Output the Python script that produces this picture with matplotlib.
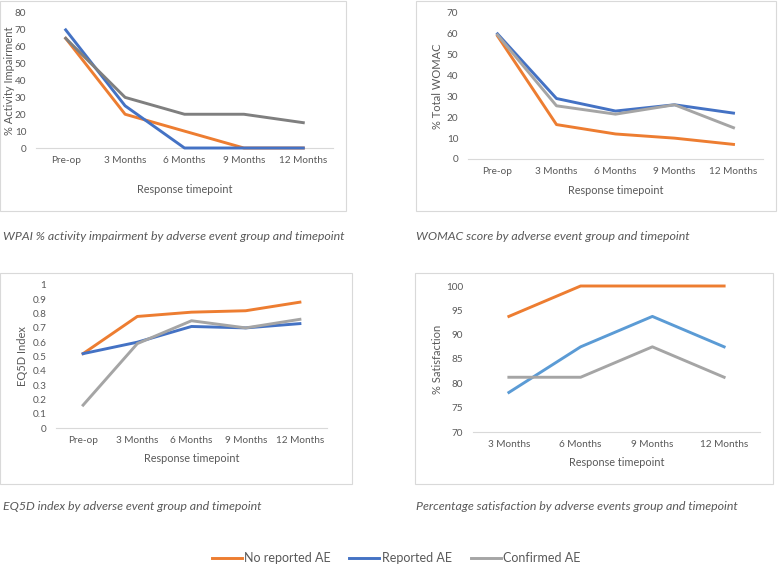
import matplotlib
matplotlib.use("Agg")
import matplotlib.pyplot as plt
from matplotlib.patches import Rectangle
from matplotlib.lines import Line2D

plt.rcParams['font.family'] = ['Lato', 'DejaVu Sans']

# categories
cats5 = ["Pre-op", "3 Months", "6 Months", "9 Months", "12 Months"]
cats4 = ["3 Months", "6 Months", "9 Months", "12 Months"]

# WPAI % activity impairment
wpai_no = [65, 20, 10, 0, 0]
wpai_rep = [70, 25, 0, 0, 0]
wpai_conf = [65, 30, 20, 20, 15]

# WOMAC
womac_no = [59, 16.5, 12, 10, 7]
womac_rep = [60, 29, 23, 26, 22]
womac_conf = [59.5, 25.5, 21.5, 26, 15]

# EQ5D
eq_no = [0.52, 0.78, 0.81, 0.82, 0.88]
eq_rep = [0.52, 0.60, 0.71, 0.70, 0.73]
eq_conf = [0.16, 0.59, 0.75, 0.70, 0.76]

# satisfaction
sat_no = [93.75, 100, 100, 100]
sat_rep = [78.125, 87.5, 93.75, 87.5]
sat_conf = [81.25, 81.25, 87.5, 81.25]

ORANGE = "#ED7D31"
BLUE = "#4472C4"
LBLUE = "#5B9BD5"
GRAY = "#A5A5A5"
DGRAY = "#7F7F7F"
TXT = "#595959"

W, H = 778, 567
fig = plt.figure(figsize=(W / 100, H / 100), dpi=100)


def box(x0, y0, x1, y1):
    fig.patches.append(Rectangle((x0 / W, 1 - y1 / H), (x1 - x0) / W, (y1 - y0) / H,
                                 transform=fig.transFigure, fill=False,
                                 edgecolor="#D9D9D9", linewidth=0.8))


def panel(left, top, w, h, cats, series, ylim, yticks, ylabel, ylab_x, xlab_y, yfmt=None):
    ax = fig.add_axes([left / W, 1 - (top + h) / H, w / W, h / H])
    x = list(range(len(cats)))
    for vals, col in series:
        ax.plot(x, vals, color=col, linewidth=2.1, clip_on=False)
    ax.set_xlim(-0.5, len(cats) - 0.5)
    ax.set_ylim(*ylim)
    ax.set_xticks(x)
    ax.set_xticklabels(cats)
    ax.set_yticks(yticks)
    if yfmt:
        ax.set_yticklabels([yfmt(v) for v in yticks])
    for s in ["top", "right", "left"]:
        ax.spines[s].set_visible(False)
    ax.spines["bottom"].set_color("#D9D9D9")
    ax.spines["bottom"].set_linewidth(0.8)
    ax.spines["bottom"].set_zorder(0)
    ax.tick_params(length=0, labelsize=7.2, labelcolor=TXT)
    ax.tick_params(axis='y', pad=7)
    ax.tick_params(axis='x', pad=6)
    ax.set_ylabel(ylabel, fontsize=8, color=TXT)
    # label anchor is the right edge of the rotated text
    ax.yaxis.set_label_coords((ylab_x + 5 - left) / w, 0.5)
    ax.set_xlabel("Response timepoint", fontsize=7.8, color=TXT)
    # label anchor is the top of the text
    ax.xaxis.set_label_coords(0.5, -(xlab_y - 5 - (top + h)) / h)
    ax.patch.set_visible(False)
    return ax


box(0, 1, 346, 211)
box(416, 1, 776, 211)
box(0, 273, 352, 484)
box(415, 273, 773, 484)

panel(36, 13, 297, 135, cats5,
      [(wpai_no, ORANGE), (wpai_rep, BLUE), (wpai_conf, DGRAY)],
      (0, 80), range(0, 81, 10), "% Activity Impairment", 10, 189)

panel(468, 13, 295, 146, cats5,
      [(womac_no, ORANGE), (womac_rep, BLUE), (womac_conf, GRAY)],
      (0, 70), range(0, 71, 10), "% Total WOMAC", 438, 190)

eq_ticks = [i / 10 for i in range(11)]
panel(56, 285, 271, 143, cats5,
      [(eq_no, ORANGE), (eq_rep, BLUE), (eq_conf, GRAY)],
      (0, 1), eq_ticks, "EQ5D Index", 23, 458,
      yfmt=lambda v: "0" if v == 0 else ("1" if v == 1 else ("%.1f" % v)))

panel(473, 286, 287, 146, cats4,
      [(sat_no, ORANGE), (sat_rep, LBLUE), (sat_conf, GRAY)],
      (70, 100), range(70, 101, 5), "% Satisfaction", 438, 462)

cap = dict(fontsize=8.9, style='italic', color=TXT, va='center', ha='left')
fig.text(3 / W, 1 - 237 / H, "WPAI % activity impairment by adverse event group and timepoint", **cap)
fig.text(416 / W, 1 - 237 / H, "WOMAC score by adverse event group and timepoint", **cap)
fig.text(3 / W, 1 - 507 / H, "EQ5D index by adverse event group and timepoint", **cap)
fig.text(416 / W, 1 - 507 / H, "Percentage satisfaction by adverse events group and timepoint", **cap)

handles = [Line2D([], [], color=ORANGE, linewidth=2.1),
           Line2D([], [], color=BLUE, linewidth=2.1),
           Line2D([], [], color=GRAY, linewidth=2.1)]
leg = fig.legend(handles, ["No reported AE", "Reported AE", "Confirmed AE"],
                 loc='center', bbox_to_anchor=(396 / W, 1 - 558 / H), ncol=3,
                 frameon=False, fontsize=9, handlelength=2.4, handletextpad=0.2,
                 columnspacing=1.5)
for t in leg.get_texts():
    t.set_color(TXT)

fig.savefig("out.png", dpi=100, facecolor="white")
